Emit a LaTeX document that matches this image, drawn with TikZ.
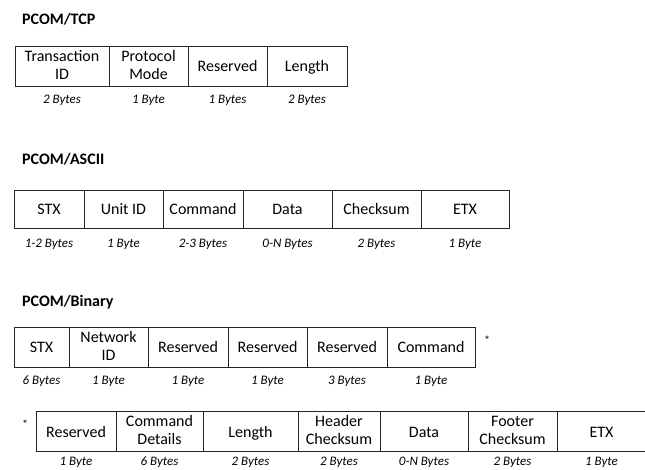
\documentclass[tikz,border=0pt]{standalone}
\usepackage{fontspec}
\setmainfont{Carlito}
\usetikzlibrary{positioning}
\tikzset{>=stealth}

\tikzset{
  field/.style={draw=black!85, line width=.8pt, align=center, inner sep=1pt,
    minimum height=40pt, font=\fontsize{16}{18}\selectfont,
    execute at begin node={\rule{0pt}{14pt}},
    execute at end node={\rule[-3pt]{0pt}{3pt}}},
  bytes/.style={font=\fontsize{13}{14}\selectfont\itshape, inner sep=0pt,
    text height=9pt, text depth=3pt},
  title/.style={font=\fontsize{16}{17}\selectfont\bfseries, anchor=west, inner sep=0pt},
  star/.style={font=\fontsize{12}{12}\selectfont, inner sep=0pt}
}

\begin{document}
\begin{tikzpicture}[x=1pt,y=-1pt]
\useasboundingbox (0,0) rectangle (645,469);

% PCOM/TCP header
\node[title] (ttcp) at (22,19) {PCOM/TCP};
\foreach \l/\r/\txt/\sz [count=\i] in {15/109/{Transaction\\ID}/{2 Bytes},
    109/188/{Protocol\\Mode}/{1 Byte}, 188/267/{Reserved}/{1 Bytes},
    267/347/{Length}/{2 Bytes}}{
  \pgfmathsetmacro\w{\r-\l}
  \node[field, minimum width=\w pt] (tcp\i) at ({(\l+\r)/2},66) {\txt};
  \node[bytes, below=8pt of tcp\i] (tcpb\i) {\sz};
}

% PCOM/ASCII frame
\node[title] (tascii) at (22,159) {PCOM/ASCII};
\foreach \l/\r/\txt/\sz [count=\i] in {14/84/{STX}/{1-2 Bytes},
    84/163/{Unit ID}/{1 Byte}, 163/243/{Command}/{2-3 Bytes},
    243/332/{Data}/{0-N Bytes}, 332/421/{Checksum}/{2 Bytes},
    421/509/{ETX}/{1 Byte}}{
  \pgfmathsetmacro\w{\r-\l}
  \node[field, minimum width=\w pt, minimum height=38pt] (asc\i) at ({(\l+\r)/2},209) {\txt};
  \node[bytes, below=10pt of asc\i] (ascb\i) {\sz};
}

% PCOM/Binary frame, first part
\node[title] (tbin) at (22,302) {PCOM/Binary};
\foreach \l/\r/\txt/\sz [count=\i] in {14/69/{STX}/{6 Bytes},
    69/148/{Network\\ID}/{1 Byte}, 148/228/{Reserved}/{1 Byte},
    228/307/{Reserved}/{1 Byte}, 307/387/{Reserved}/{3 Bytes},
    387/475/{Command}/{1 Byte}}{
  \pgfmathsetmacro\w{\r-\l}
  \node[field, minimum width=\w pt] (bin\i) at ({(\l+\r)/2},347) {\txt};
  \node[bytes, below=8pt of bin\i] (binb\i) {\sz};
}
\node[star] (stara) at (487,340) {*};

% PCOM/Binary frame, continued
\node[star] (starb) at (25,424) {*};
\foreach \l/\r/\txt/\sz [count=\i] in {36/116/{Reserved}/{1 Byte},
    116/203/{Command\\Details}/{6 Bytes}, 203/298/{Length}/{2 Bytes},
    298/380/{Header\\Checksum}/{2 Bytes}, 380/468/{Data}/{0-N Bytes},
    468/557/{Footer\\Checksum}/{2 Bytes}, 557/646/{ETX}/{1 Byte}}{
  \pgfmathsetmacro\w{\r-\l}
  \node[field, minimum width=\w pt] (ext\i) at ({(\l+\r)/2},431.5) {\txt};
  \node[bytes, below=4.5pt of ext\i] (extb\i) {\sz};
}
\end{tikzpicture}
\end{document}
